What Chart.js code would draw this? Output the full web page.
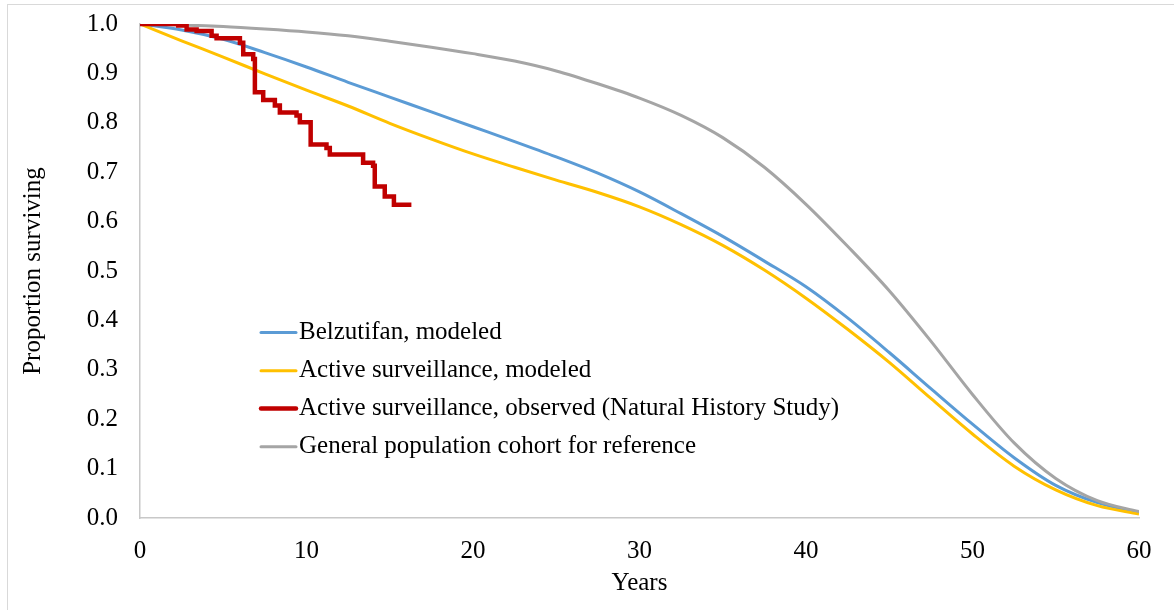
<!DOCTYPE html>
<html>
<head>
<meta charset="utf-8">
<title>Proportion surviving</title>
<script src="https://cdn.jsdelivr.net/npm/chart.js@4.4.0/dist/chart.umd.min.js"></script>
<style>
  html, body { margin: 0; padding: 0; background: #fff; }
  #wrap { position: relative; width: 1174px; height: 610px; overflow: hidden; }
  #frame { position: absolute; left: 7px; top: 4px; width: 1200px; height: 640px; border: 1px solid #d9d9d9; }
  #survChart { position: absolute; left: 0; top: 0; }
</style>
</head>
<body>
<div id="wrap">
  <div id="frame"></div>
  <canvas id="survChart" width="1174" height="610"></canvas>
</div>
<script>
// --- data ---
const seriesLabels = [
  'Belzutifan, modeled',
  'Active surveillance, modeled',
  'Active surveillance, observed (Natural History Study)',
  'General population cohort for reference'
];

// years shared by the three modeled curves
const modeledYears = [0, 2.5, 5, 7.5, 10, 12.5, 15, 17.5, 20, 22.5, 25, 27.5, 30,
  32.5, 35, 37.5, 40, 42.5, 45, 47.5, 50, 52.5, 55, 57.5, 60];

const belzutifanSurv = [1.000, 0.988, 0.969, 0.942, 0.913, 0.882, 0.852, 0.822, 0.792, 0.762,
  0.731, 0.698, 0.660, 0.616, 0.570, 0.520, 0.468, 0.405, 0.335, 0.262, 0.190, 0.122, 0.066,
  0.031, 0.011];

const activeModeledSurv = [1.000, 0.966, 0.933, 0.899, 0.866, 0.834, 0.799, 0.767, 0.737, 0.710,
  0.684, 0.659, 0.630, 0.594, 0.552, 0.502, 0.445, 0.382, 0.315, 0.242, 0.170, 0.105, 0.057,
  0.025, 0.008];

const generalPopSurv = [1.000, 0.998, 0.995, 0.990, 0.984, 0.976, 0.965, 0.953, 0.940, 0.925,
  0.905, 0.879, 0.850, 0.815, 0.770, 0.710, 0.635, 0.550, 0.460, 0.358, 0.250, 0.152, 0.080,
  0.035, 0.013];

// Kaplan-Meier steps from the natural history study
const observedYears = [0, 2.3, 2.8, 3.4, 4.3, 4.6, 6.0, 6.2, 6.8, 6.9, 7.4, 8.1, 8.4, 9.4, 9.6,
  10.25, 11.2, 11.4, 13.4, 14.0, 14.1, 14.7, 15.25, 16.3];
const observedSurv = [1.000, 0.997, 0.989, 0.986, 0.976, 0.971, 0.962, 0.939, 0.929, 0.862, 0.846,
  0.835, 0.821, 0.815, 0.801, 0.756, 0.749, 0.736, 0.719, 0.713, 0.671, 0.651, 0.634, 0.634];

const xTicks = [0, 10, 20, 30, 40, 50, 60];
const yTicks = [0, 0.1, 0.2, 0.3, 0.4, 0.5, 0.6, 0.7, 0.8, 0.9, 1.0];

// --- helpers ---
const FONT = '"Times New Roman", "Liberation Serif", serif';
const FONT_SIZE = 25;

function toPoints(xs, ys) {
  return xs.map((x, i) => ({ x, y: ys[i] }));
}

// keep tick labels from pushing the plot area around
function noOverflow(scale) {
  scale.paddingTop = 0;
  scale.paddingBottom = 0;
  scale.paddingLeft = 0;
  scale.paddingRight = 0;
}

// legend drawn inside the plot area, Excel style
const insideLegend = {
  id: 'insideLegend',
  afterDatasetsDraw(chart) {
    const ctx = chart.ctx;
    const rows = [332.5, 370.8, 408.5, 446.7];
    ctx.save();
    ctx.font = FONT_SIZE + 'px ' + FONT;
    ctx.textBaseline = 'middle';
    ctx.textAlign = 'left';
    chart.data.datasets.forEach((ds, i) => {
      const y = rows[i];
      ctx.strokeStyle = ds.borderColor;
      ctx.lineWidth = ds.borderWidth;
      ctx.lineCap = 'round';
      ctx.beginPath();
      ctx.moveTo(261, y);
      ctx.lineTo(296, y);
      ctx.stroke();
      ctx.fillStyle = '#000';
      ctx.fillText(ds.label, 299, y);
    });
    ctx.restore();
  }
};

const ctx = document.getElementById('survChart').getContext('2d');

// lower "order" is drawn on top
new Chart(ctx, {
  type: 'line',
  data: {
    datasets: [
      {
        label: seriesLabels[0],
        data: toPoints(modeledYears, belzutifanSurv),
        borderColor: '#5B9BD5',
        borderWidth: 3,
        cubicInterpolationMode: 'monotone',
        order: 3
      },
      {
        label: seriesLabels[1],
        data: toPoints(modeledYears, activeModeledSurv),
        borderColor: '#FFC000',
        borderWidth: 3,
        cubicInterpolationMode: 'monotone',
        order: 2
      },
      {
        label: seriesLabels[2],
        data: toPoints(observedYears, observedSurv),
        borderColor: '#C00000',
        borderWidth: 4.5,
        stepped: true,
        borderJoinStyle: 'miter',
        order: 0
      },
      {
        label: seriesLabels[3],
        data: toPoints(modeledYears, generalPopSurv),
        borderColor: '#A5A5A5',
        borderWidth: 3,
        cubicInterpolationMode: 'monotone',
        order: 1
      }
    ]
  },
  options: {
    responsive: false,
    animation: false,
    devicePixelRatio: 1,
    layout: { padding: { top: 24, right: 35, left: 0, bottom: 0 } },
    elements: { point: { radius: 0, hoverRadius: 0 } },
    plugins: {
      legend: { display: false },
      tooltip: { enabled: false }
    },
    scales: {
      x: {
        type: 'linear',
        min: 0,
        max: 60,
        afterFit: (scale) => { scale.height = 92; noOverflow(scale); },
        afterBuildTicks: (scale) => { scale.ticks = xTicks.map(v => ({ value: v })); },
        grid: { display: false, drawTicks: false },
        border: { display: true, color: '#c8c8c8', width: 1.5 },
        ticks: {
          padding: 18,
          color: '#000',
          font: { family: FONT, size: FONT_SIZE },
          maxRotation: 0
        },
        title: {
          display: true,
          text: 'Years',
          color: '#000',
          font: { family: FONT, size: FONT_SIZE },
          padding: { top: 0, bottom: 12 }
        }
      },
      y: {
        min: 0,
        max: 1,
        afterFit: (scale) => { scale.width = 140; noOverflow(scale); },
        afterBuildTicks: (scale) => { scale.ticks = yTicks.map(v => ({ value: v })); },
        grid: { display: false, drawTicks: false },
        border: { display: true, color: '#c8c8c8', width: 1.5 },
        ticks: {
          padding: 22,
          color: '#000',
          font: { family: FONT, size: FONT_SIZE },
          callback: (v) => Number(v).toFixed(1)
        },
        title: {
          display: true,
          text: 'Proportion surviving',
          color: '#000',
          font: { family: FONT, size: FONT_SIZE },
          padding: { top: 18, bottom: 0 }
        }
      }
    }
  },
  plugins: [insideLegend]
});
</script>
</body>
</html>
